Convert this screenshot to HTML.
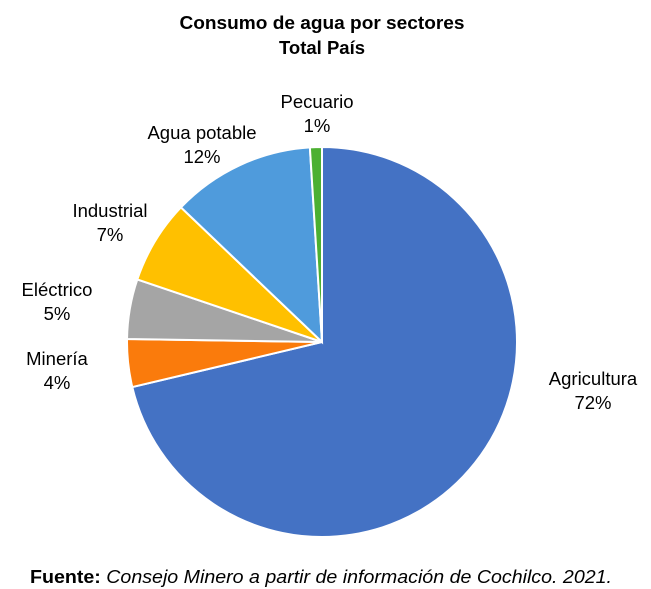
<!DOCTYPE html>
<html><head><meta charset="utf-8">
<style>
body{margin:0;background:#fff;width:651px;height:589px;overflow:hidden;font-family:"Liberation Sans",sans-serif;}
svg{display:block}
</style></head>
<body>
<svg width="651" height="589">
<text x="322" y="29" text-anchor="middle" font-size="18.5" font-weight="bold" textLength="285" lengthAdjust="spacingAndGlyphs">Consumo de agua por sectores</text>
<text x="322" y="54" text-anchor="middle" font-size="18.5" font-weight="bold">Total País</text>
<g id="slices"></g>
<g id="labels"></g>
<text x="30" y="583" font-size="18.5" textLength="582" lengthAdjust="spacingAndGlyphs"><tspan font-weight="bold">Fuente:</tspan><tspan font-style="italic"> Consejo Minero a partir de información de Cochilco. 2021.</tspan></text>
</svg>
<script>
const categories=["Agricultura","Minería","Eléctrico","Industrial","Agua potable","Pecuario"];
const values=[72,4,5,7,12,1];
const colors=["#4472C4","#FA7B0C","#A5A5A5","#FFC000","#4F9BDC","#4CB032"];
const labelPos=[[593,385],[57,365],[57,296],[110,217],[202,139],[317,108]];
const cx=322,cy=342,r=195;
const total=values.reduce((a,b)=>a+b,0);
const ns="http://www.w3.org/2000/svg";
const gs=document.getElementById("slices"),gl=document.getElementById("labels");
function pt(a){return [cx+r*Math.sin(a),cy-r*Math.cos(a)];}
let a0=0;
values.forEach((v,i)=>{
  const a1=a0+v/total*2*Math.PI;
  const p0=pt(a0),p1=pt(a1);
  const large=(a1-a0)>Math.PI?1:0;
  const p=document.createElementNS(ns,"path");
  p.setAttribute("d",`M${cx},${cy}L${p0[0]},${p0[1]}A${r},${r} 0 ${large} 1 ${p1[0]},${p1[1]}Z`);
  p.setAttribute("fill",colors[i]);
  p.setAttribute("stroke","#fff");
  p.setAttribute("stroke-width","2");
  
  
  gs.appendChild(p);
  const t=document.createElementNS(ns,"text");
  t.setAttribute("x",labelPos[i][0]);t.setAttribute("y",labelPos[i][1]);
  t.setAttribute("text-anchor","middle");t.setAttribute("font-size","18.5");
  
  
  const s1=document.createElementNS(ns,"tspan");s1.setAttribute("x",labelPos[i][0]);s1.textContent=categories[i];
  const s2=document.createElementNS(ns,"tspan");s2.setAttribute("x",labelPos[i][0]);s2.setAttribute("dy","24");s2.textContent=v+"%";
  t.appendChild(s1);t.appendChild(s2);gl.appendChild(t);
  a0=a1;
});
</script>
</body></html>
